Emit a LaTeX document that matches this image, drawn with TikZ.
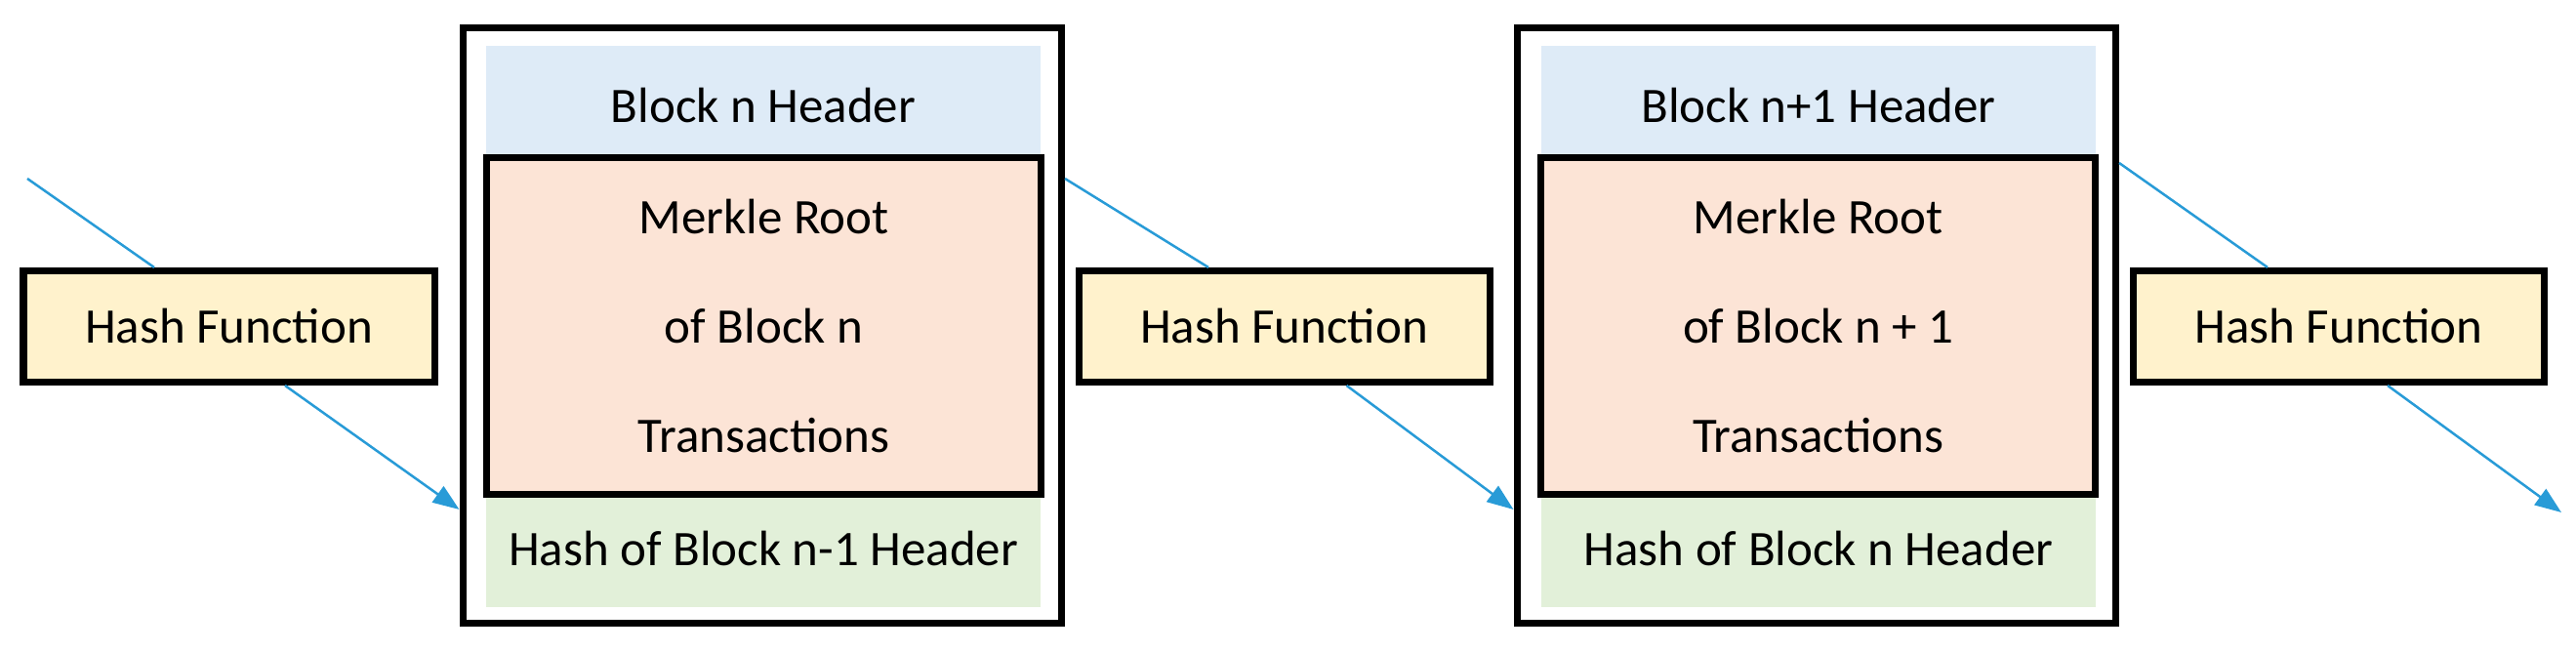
\documentclass[tikz,border=0pt]{standalone}
\usepackage{fontspec}
\setmainfont{Carlito}
\usepackage{tikz}
\usetikzlibrary{arrows.meta}

\definecolor{hdrblue}{HTML}{DEEBF7}
\definecolor{merkleorange}{HTML}{FCE4D6}
\definecolor{prevgreen}{HTML}{E2F0D9}
\definecolor{hashyellow}{HTML}{FFF2CC}
\definecolor{linkblue}{RGB}{40,155,215}

\begin{document}
\begin{tikzpicture}[
    font=\fontsize{14.5}{17}\selectfont,
    blockframe/.style={rectangle, draw, line width=0.07cm, fill=white,
                 minimum width=6.135cm, minimum height=6.095cm, inner sep=0pt},
    hdrpart/.style={rectangle, fill=hdrblue, minimum width=5.68cm,
                 minimum height=1.22cm, inner sep=0pt},
    merklepart/.style={rectangle, draw, line width=0.07cm, fill=merkleorange,
                 minimum width=5.68cm, minimum height=3.45cm, align=center,
                 font=\fontsize{14.5}{31.9}\selectfont},
    prevpart/.style={rectangle, fill=prevgreen, minimum width=5.68cm,
                 minimum height=1.19cm, inner sep=0pt},
    hashfn/.style={rectangle, draw, line width=0.07cm, fill=hashyellow,
                 minimum width=4.21cm, minimum height=1.14cm},
    link/.style={draw=linkblue, line width=0.025cm},
    linkarr/.style={link, -{Triangle[length=0.27cm, width=0.2cm]}}
  ]
  \useasboundingbox (0,0) rectangle (26.39,6.68);

  % blocks
  \node[blockframe] (block1) at (7.8075,3.3425) {};
  \node[hdrpart] (header1) at (7.82,5.60) {Block n Header};
  \node[prevpart] (prev1) at (7.82,1.055) {Hash of Block n-1 Header};
  \node[merklepart] (merkle1) at (7.825,3.34) {Merkle Root\\of Block n\\Transactions};

  \node[blockframe] (block2) at (18.6075,3.3425) {};
  \node[hdrpart] (header2) at (18.63,5.60) {Block n+1 Header};
  \node[prevpart] (prev2) at (18.63,1.055) {Hash of Block n Header};
  \node[merklepart] (merkle2) at (18.6275,3.34) {Merkle Root\\of Block n + 1\\Transactions};

  % hash functions
  \node[hashfn] (hash1) at (2.345,3.335) {Hash Function};
  \node[hashfn] (hash2) at (13.155,3.335) {Hash Function};
  \node[hashfn] (hash3) at (23.96,3.335) {Hash Function};

  \coordinate (start0) at (0.28,4.85);
  \coordinate (end3) at (26.24,1.43);
  \coordinate (out1) at ([yshift=1.5075cm]block1.east);
  \coordinate (out2) at ([yshift=1.6675cm]block2.east);
  \coordinate (in1) at ([yshift=-1.8825cm]block1.west);
  \coordinate (in2) at ([yshift=-1.8825cm]block2.west);

  \draw[link] (start0) -- ([xshift=-0.765cm]hash1.north);
  \draw[linkarr] ([xshift=0.575cm]hash1.south) -- (in1);
  \draw[link] (out1) -- ([xshift=-0.775cm]hash2.north);
  \draw[linkarr] ([xshift=0.64cm]hash2.south) -- (in2);
  \draw[link] (out2) -- ([xshift=-0.73cm]hash3.north);
  \draw[linkarr] ([xshift=0.50cm]hash3.south) -- (end3);

\end{tikzpicture}
\end{document}
